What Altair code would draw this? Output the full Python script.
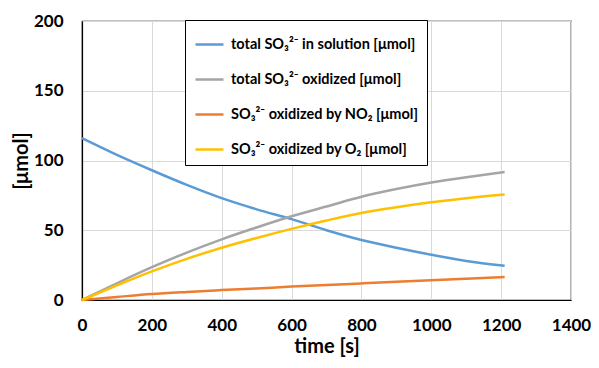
import altair as alt
import pandas as pd

time_s = [0, 100, 200, 300, 400, 500, 600, 700, 800, 900, 1000, 1100, 1210]
total_in_solution = [116, 104, 93, 82.5, 73, 65, 58, 50, 43, 37.5, 32.5, 28, 24.5]
total_oxidized = [0, 12, 23.5, 34, 43.5, 52, 60, 67, 74, 79.5, 84.2, 88, 91.7]
oxidized_by_no2 = [0, 2.2, 4.3, 5.8, 7.1, 8.3, 9.6, 10.8, 11.9, 13, 14.2, 15.3, 16.4]
oxidized_by_o2 = [0, 10.5, 20.5, 29.5, 37.5, 44.5, 51, 57, 62.4, 66.5, 70, 73, 75.7]

series_names = [
    "total SO₃²⁻ in solution [μmol]",
    "total SO₃²⁻ oxidized [μmol]",
    "SO₃²⁻ oxidized by NO₂ [μmol]",
    "SO₃²⁻ oxidized by O₂ [μmol]",
]
series_values = [total_in_solution, total_oxidized, oxidized_by_no2, oxidized_by_o2]
series_colors = ["#5B9BD5", "#A5A5A5", "#ED7D31", "#FFC000"]

x_ticks = [0, 200, 400, 600, 800, 1000, 1200, 1400]
y_ticks = [0, 50, 100, 150, 200]

rows = []
for name, vals in zip(series_names, series_values):
    for t, v in zip(time_s, vals):
        rows.append({"time": t, "value": v, "series": name})
df = pd.DataFrame(rows)

FONT = "Lato"

chart = alt.Chart(df).mark_line(strokeWidth=2.5, interpolate="monotone").encode(
    x=alt.X("time:Q",
            scale=alt.Scale(domain=[0, 1400], nice=False),
            axis=alt.Axis(values=x_ticks, format="d", title="time [s]", labelFontSize=17,
                          labelFontWeight="bold", titleFontSize=20, titleFontWeight="bold",
                          labelColor="black", titleColor="black", labelPadding=17,
                          labelFlush=False, labelOverlap=False,
                          titlePadding=3, tickSize=0, domainColor="black", domainWidth=1.2,
                          gridColor="#d9d9d9", labelFont=FONT, titleFont=FONT)),
    y=alt.Y("value:Q",
            scale=alt.Scale(domain=[0, 200], nice=False),
            axis=alt.Axis(values=y_ticks, format="d", title="[μmol]", labelFontSize=17,
                          labelFontWeight="bold", titleFontSize=20, titleFontWeight="bold",
                          labelColor="black", titleColor="black", labelPadding=19,
                          labelFlush=False, labelOverlap=False,
                          titlePadding=2, tickSize=0, domainColor="black", domainWidth=1.2,
                          gridColor="#d9d9d9", labelFont=FONT, titleFont=FONT)),
    color=alt.Color("series:N",
                    scale=alt.Scale(domain=series_names, range=series_colors),
                    sort=series_names,
                    legend=alt.Legend(title=None, orient="none", legendX=103, legendY=-1,
                                      strokeColor="black", fillColor="white",
                                      padding=9, symbolType="stroke",
                                      symbolSize=784, symbolStrokeWidth=2.5,
                                      rowPadding=13, labelFontSize=14.5,
                                      labelFontWeight="bold", labelColor="black",
                                      labelFont=FONT, labelLimit=300, labelOffset=6)),
).properties(
    width=489, height=279,
    autosize=alt.AutoSizeParams(type="none"),
    padding={"left": 74, "top": 13, "right": 20, "bottom": 60},
).configure_view(
    stroke="black", strokeWidth=1.2
)

chart.save("out.html", embed_options={"renderer": "svg", "actions": False})
